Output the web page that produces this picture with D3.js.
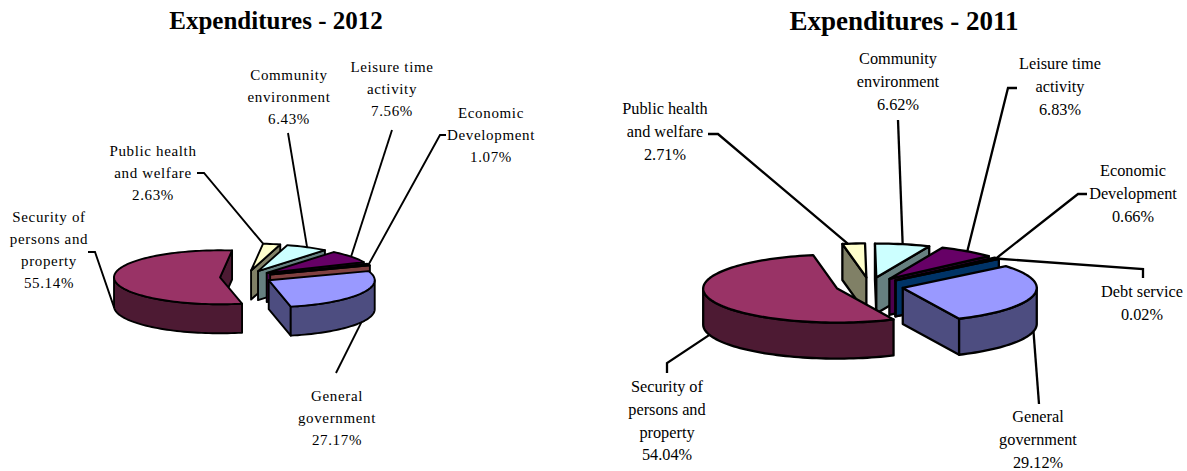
<!DOCTYPE html>
<html>
<head>
<meta charset="utf-8">
<script src="https://cdn.jsdelivr.net/npm/d3@7"></script>
<style>
  html, body { margin: 0; padding: 0; background: #fff; }
  text { font-family: "Liberation Serif", serif; fill: #000; }
</style>
</head>
<body>
<div id="chart"></div>
<script>
// Chart data
var categories2012 = ["General government", "Security of persons and property", "Public health and welfare", "Community environment", "Leisure time activity", "Economic Development"];
var values2012 = [27.17, 55.14, 2.63, 6.43, 7.56, 1.07];
var categories2011 = ["General government", "Security of persons and property", "Public health and welfare", "Community environment", "Leisure time activity", "Economic Development", "Debt service"];
var values2011 = [29.12, 54.04, 2.71, 6.62, 6.83, 0.66, 0.02];

// Excel's pie palette, top faces and shaded walls
var topColors = {
    "General government": "#9999ff",
    "Security of persons and property": "#993366",
    "Public health and welfare": "#ffffcc",
    "Community environment": "#ccffff",
    "Leisure time activity": "#660066",
    "Economic Development": "#ff8080",
    "Debt service": "#0066cc"
};
var wallColors = {
    "General government": "#4d4d80",
    "Security of persons and property": "#4d1a33",
    "Public health and welfare": "#808066",
    "Community environment": "#668080",
    "Leisure time activity": "#4d004d",
    "Economic Development": "#804040",
    "Debt service": "#003366"
};

// How each label breaks
var labelLines = {
    "General government": ["General", "government"],
    "Security of persons and property": ["Security of", "persons and", "property"],
    "Public health and welfare": ["Public health", "and welfare"],
    "Community environment": ["Community", "environment"],
    "Leisure time activity": ["Leisure time", "activity"],
    "Economic Development": ["Economic", "Development"],
    "Debt service": ["Debt service"]
};

var width = 1187, height = 471;
var rad = Math.PI / 180;

var svg = d3.select("#chart").append("svg")
    .attr("width", width)
    .attr("height", height)
    .style("display", "block");

// Layout of the two charts
var layouts = [{
    title: "Expenditures - 2012", titleX: 276, titleY: 29, titleSize: 25,
    categories: categories2012, values: values2012,
    startAngle: 70.2, cx: 246, cy: 277, rx: 106, ry: 27, explode: 26, depth: 29, stroke: 1.9,
    lineHeight: 22, labelSize: 15, spacing: 0.65,
    labels: {
        "General government": { x: 337, y: 396, leader: [[336, 373]], z: 1 },
        "Security of persons and property": { x: 49, y: 217, leader: [[95, 252], [88, 252]], z: 1 },
        "Public health and welfare": { x: 153, y: 151, leader: [[204, 173], [197, 173]], z: 0, angle: 6.5 },
        "Community environment": { x: 289, y: 75, leader: [[288, 133]], z: 0 },
        "Leisure time activity": { x: 392, y: 67, leader: [[392, 130]], z: 0 },
        "Economic Development": { x: 491, y: 113, leader: [[440, 135], [446, 135]], z: 0 }
    }
}, {
    title: "Expenditures - 2011", titleX: 904, titleY: 30, titleSize: 27,
    categories: categories2011, values: values2011,
    startAngle: 50.3, cx: 869.6, cy: 286, rx: 134, ry: 34, explode: 34, depth: 36, stroke: 2.3,
    lineHeight: 22.8, labelSize: 16.3, spacing: 0,
    labels: {
        "General government": { x: 1038, y: 417, leader: [[1039, 404]], z: 1 },
        "Security of persons and property": { x: 667, y: 387, leader: [[667, 363], [667, 373]], z: 1 },
        "Public health and welfare": { x: 665, y: 109, leader: [[718, 134], [708, 134]], z: 0, angle: 352 },
        "Community environment": { x: 898, y: 59, leader: [[898, 120]], z: 0 },
        "Leisure time activity": { x: 1060, y: 64, leader: [[1008, 88], [1017, 88]], z: 0 },
        "Economic Development": { x: 1133, y: 171, leader: [[1078, 194], [1087, 194]], z: 0 },
        "Debt service": { x: 1142, y: 292, leader: [[1143, 269], [1143, 278]], z: 0 }
    }
}];

var pct = d3.format(".2f");
var line = d3.line();

layouts.forEach(function(chart) {

    var g = svg.append("g");

    // d3.pie gives the slice angles, in degrees here so they read like the chart
    var slices = d3.pie()
        .sort(null)
        .startAngle(chart.startAngle * rad)
        .endAngle((chart.startAngle + 360) * rad)
        .value(function(d) { return d.value; })(chart.categories.map(function(c, i) {
            return { name: c, value: chart.values[i] };
        }));

    // Unit circle to the tilted ellipse
    var xScale = d3.scaleLinear().domain([-1, 1]).range([-chart.rx, chart.rx]);
    var yScale = d3.scaleLinear().domain([-1, 1]).range([-chart.ry, chart.ry]);

    slices.forEach(function(s) {
        s.a0 = s.startAngle;
        s.a1 = s.endAngle;
        s.mid = (s.a0 + s.a1) / 2;
        s.apexX = chart.cx + chart.explode * Math.sin(s.mid);
        s.apexY = chart.cy - chart.explode * Math.cos(s.mid) * chart.ry / chart.rx;
    });

    var rimPoint = function(s, a, z) {
        return [s.apexX + xScale(Math.sin(a)), s.apexY + yScale(-Math.cos(a)) + z];
    };
    var apexPoint = function(s, z) {
        return [s.apexX, s.apexY + z];
    };
    var arcPoints = function(s, a0, a1, z) {
        var n = Math.max(2, Math.ceil((a1 - a0) / (2 * rad)));
        return d3.range(n + 1).map(function(i) {
            return rimPoint(s, a0 + (a1 - a0) * i / n, z);
        });
    };

    // Leader lines go under the slices
    slices.forEach(function(s) {
        var label = chart.labels[s.data.name];
        var a = label.angle !== undefined ? label.angle * rad : s.mid;
        var start = rimPoint(s, a, label.z ? chart.depth : 0);
        g.append("path")
            .attr("d", line([start].concat(label.leader)))
            .attr("fill", "none")
            .attr("stroke", "#000")
            .attr("stroke-width", chart.stroke);
    });

    // Painter's order, back slices first
    var ordered = slices.slice().sort(function(a, b) {
        return Math.cos(b.mid) - Math.cos(a.mid);
    });

    ordered.forEach(function(s) {
        var sg = g.append("g");
        var style = function(sel, fill) {
            sel.attr("fill", fill)
                .attr("stroke", "#000")
                .attr("stroke-width", chart.stroke)
                .attr("stroke-linejoin", "round");
        };

        // Radial walls that face the viewer
        if (Math.sin(s.a0) < 0) {
            style(sg.append("path").attr("d", line([apexPoint(s, 0), rimPoint(s, s.a0, 0), rimPoint(s, s.a0, chart.depth), apexPoint(s, chart.depth)]) + "Z"), wallColors[s.data.name]);
        }
        if (Math.sin(s.a1) > 0) {
            style(sg.append("path").attr("d", line([apexPoint(s, 0), rimPoint(s, s.a1, 0), rimPoint(s, s.a1, chart.depth), apexPoint(s, chart.depth)]) + "Z"), wallColors[s.data.name]);
        }

        // Outer wall on the front half of the rim
        [[90, 270], [450, 630]].forEach(function(r) {
            var a0 = Math.max(s.a0, r[0] * rad), a1 = Math.min(s.a1, r[1] * rad);
            if (a1 > a0) {
                var pts = arcPoints(s, a0, a1, 0).concat(arcPoints(s, a0, a1, chart.depth).reverse());
                style(sg.append("path").attr("d", line(pts) + "Z"), wallColors[s.data.name]);
            }
        });

        // Top face
        style(sg.append("path").attr("d", line([apexPoint(s, 0)].concat(arcPoints(s, s.a0, s.a1, 0))) + "Z"), topColors[s.data.name]);
    });

    // Title
    g.append("text")
        .attr("x", chart.titleX)
        .attr("y", chart.titleY)
        .attr("text-anchor", "middle")
        .attr("font-weight", "bold")
        .attr("font-size", chart.titleSize)
        .text(chart.title);

    // Labels
    slices.forEach(function(s) {
        var label = chart.labels[s.data.name];
        var lines = labelLines[s.data.name].concat([pct(s.data.value) + "%"]);
        g.append("text")
            .attr("text-anchor", "middle")
            .attr("font-size", chart.labelSize)
            .attr("letter-spacing", chart.spacing)
            .selectAll("tspan")
            .data(lines)
            .join("tspan")
            .attr("x", label.x)
            .attr("y", function(d, i) { return label.y + 5 + i * chart.lineHeight; })
            .text(function(d) { return d; });
    });
});
</script>
</body>
</html>
